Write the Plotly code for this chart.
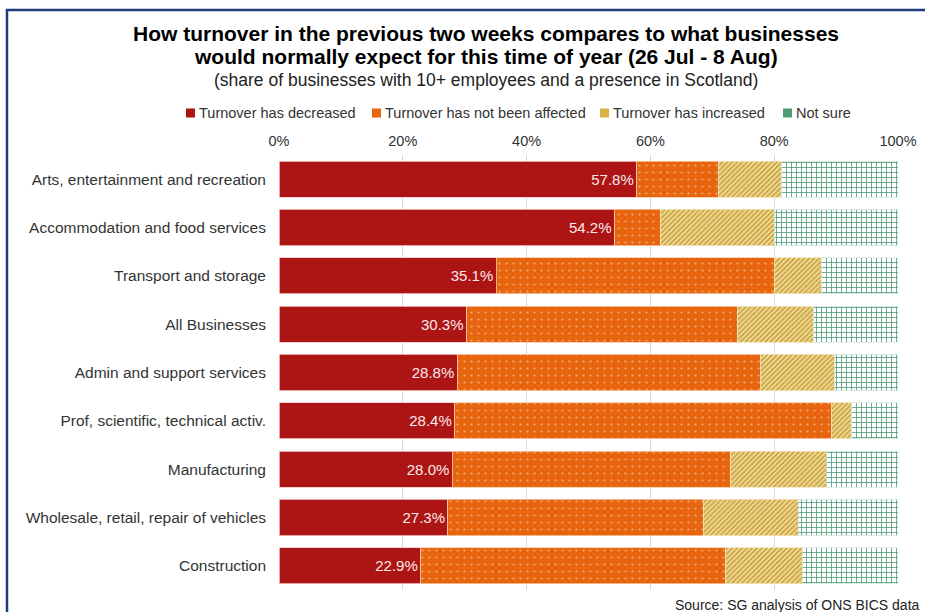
import plotly.graph_objects as go

categories = [
    "Arts, entertainment and recreation",
    "Accommodation and food services",
    "Transport and storage",
    "All Businesses",
    "Admin and support services",
    "Prof, scientific, technical activ.",
    "Manufacturing",
    "Wholesale, retail, repair of vehicles",
    "Construction",
]
decreased = [57.8, 54.2, 35.1, 30.3, 28.8, 28.4, 28.0, 27.3, 22.9]
not_affected = [13.2, 7.4, 45.0, 43.8, 49.0, 60.9, 45.0, 41.2, 49.3]
increased = [10.2, 18.4, 7.6, 12.3, 12.0, 3.2, 15.4, 15.4, 12.3]
not_sure = [18.8, 20.0, 12.3, 13.6, 10.2, 7.5, 11.6, 16.1, 15.5]

series_names = ["Turnover has decreased", "Turnover has not been affected",
                "Turnover has increased", "Not sure"]
series_colors = ["#AD1515", "#E8650F", "#D9B240", "#4E9A78"]
x_ticks = [0, 20, 40, 60, 80, 100]
x_ticktext = [f"{v}%" for v in x_ticks]

FONT = "Liberation Sans, Arial, sans-serif"

fig = go.Figure()
fig.add_trace(go.Bar(
    y=categories, x=decreased, name=series_names[0], orientation="h",
    marker=dict(color=series_colors[0], line=dict(color="#F3C9C9", width=0.8)),
    text=[f"{v:.1f}%" for v in decreased], textposition="inside",
    insidetextanchor="end", textfont=dict(color="#FBE9E9", size=15, family=FONT),
    hoverinfo="x+name",
))
fig.add_trace(go.Bar(
    y=categories, x=not_affected, name=series_names[1], orientation="h",
    marker=dict(color=series_colors[1], line=dict(color="#F7C8A4", width=0.8),
                pattern=dict(shape=".", bgcolor="#E8650F", fgcolor="#F4A872",
                             size=7, solidity=0.08, fillmode="replace")),
))
fig.add_trace(go.Bar(
    y=categories, x=increased, name=series_names[2], orientation="h",
    marker=dict(color=series_colors[2], line=dict(color="#F2E4B8", width=0.8),
                pattern=dict(shape="/", bgcolor="#F0DDA4", fgcolor="#C89E2C",
                             size=3.5, solidity=0.45, fillmode="replace")),
))
fig.add_trace(go.Bar(
    y=categories, x=not_sure, name=series_names[3], orientation="h",
    marker=dict(color=series_colors[3], line=dict(color="#D6E9DF", width=0.8),
                pattern=dict(shape="+", bgcolor="#FFFFFF", fgcolor="#4E9A78",
                             size=5, solidity=0.3, fillmode="replace")),
))

L, R, T, B = 279, 27, 155, 22
W, H = 925, 612
pw, ph = W - L - R, H - T - B

def px(x):
    return (x - L) / pw

def py(y):
    return (H - B - y) / ph

annotations = [
    dict(text="<b>How turnover in the previous two weeks compares to what businesses</b>",
         x=px(486), y=py(34), xref="paper", yref="paper", showarrow=False,
         xanchor="center", yanchor="middle", font=dict(size=21, color="#000000")),
    dict(text="<b>would normally expect for this time of year (26 Jul - 8 Aug)</b>",
         x=px(486), y=py(57), xref="paper", yref="paper", showarrow=False,
         xanchor="center", yanchor="middle", font=dict(size=21, color="#000000")),
    dict(text="(share of businesses with 10+ employees and a presence in Scotland)",
         x=px(486), y=py(80), xref="paper", yref="paper", showarrow=False,
         xanchor="center", yanchor="middle", font=dict(size=17.5, color="#222222")),
    dict(text="Source: SG analysis of ONS BICS data",
         x=px(922), y=py(605), xref="paper", yref="paper", showarrow=False,
         xanchor="right", yanchor="middle", font=dict(size=14, color="#222222")),
]
shapes = [
    dict(type="rect", xref="paper", yref="paper",
         x0=px(7), x1=px(935), y0=py(625), y1=py(10),
         line=dict(color="#1F3B7B", width=2.5), fillcolor="rgba(0,0,0,0)",
         layer="above"),
]

# manual legend
legend_sw_x = [186, 372, 600, 783]
for name, col, sx in zip(series_names, series_colors, legend_sw_x):
    shapes.append(dict(type="rect", xref="paper", yref="paper",
                       x0=px(sx), x1=px(sx + 9), y0=py(117.5), y1=py(108.5),
                       fillcolor=col, line=dict(width=0)))
    annotations.append(dict(text=name, x=px(sx + 11), y=py(113), xref="paper",
                            yref="paper", showarrow=False, xanchor="left",
                            yanchor="middle",
                            font=dict(size=14.5, color="#333333")))

fig.update_layout(
    barmode="stack",
    bargap=0.25,
    width=W, height=H,
    margin=dict(l=L, r=R, t=T, b=B, autoexpand=False),
    paper_bgcolor="white", plot_bgcolor="white",
    font=dict(family=FONT, size=14, color="#333333"),
    showlegend=False,
    xaxis=dict(range=[0, 100], tickmode="array", tickvals=x_ticks,
               ticktext=x_ticktext, side="top", automargin=False,
               showgrid=True, gridcolor="#D9D9D9", gridwidth=1, zeroline=False,
               showline=False, ticks="", ticklabelstandoff=5,
               tickfont=dict(size=14.5, color="#333333"), fixedrange=True),
    yaxis=dict(autorange="reversed", showgrid=False, zeroline=False,
               showline=False, ticks="", ticklabelstandoff=12, automargin=False,
               tickfont=dict(size=15.5, color="#333333"), fixedrange=True),
    annotations=annotations,
    shapes=shapes,
)

fig.write_html("out.html")
